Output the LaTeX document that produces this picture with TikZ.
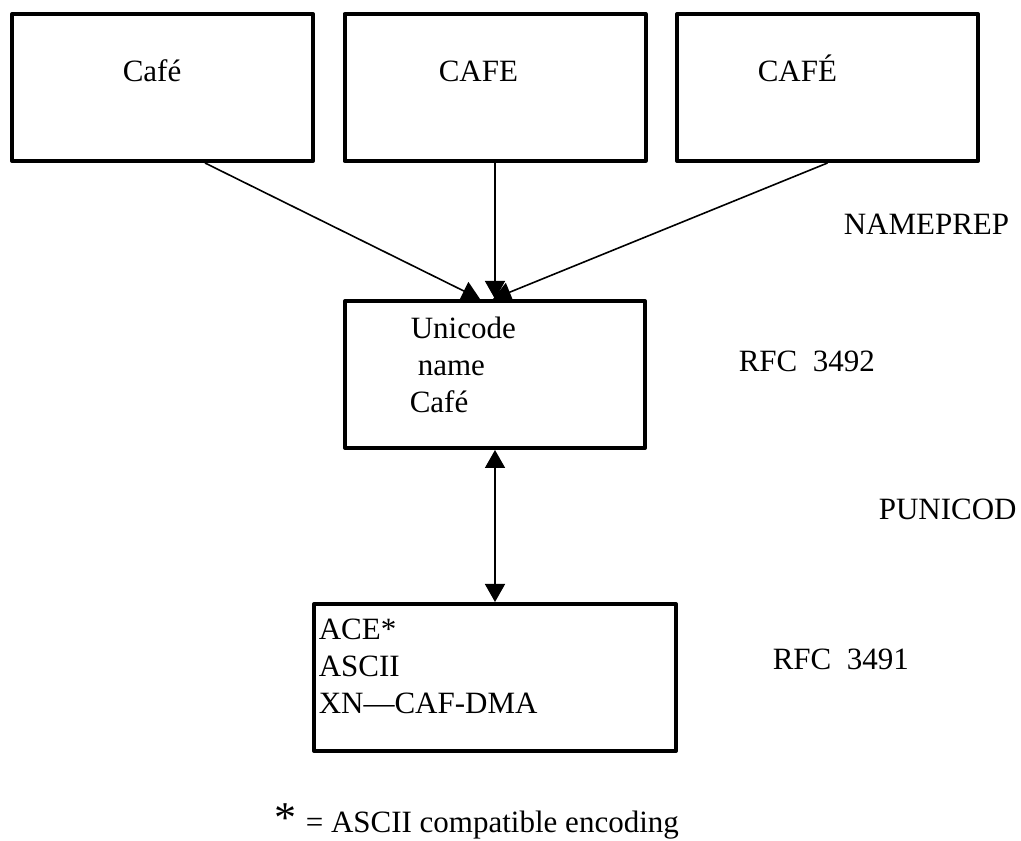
\documentclass[tikz,border=0pt]{standalone}
\usepackage{fontspec}
\setmainfont{Liberation Serif}
\usetikzlibrary{arrows.meta}
\tikzset{
  box/.style={draw=black,rectangle,line width=4bp,minimum width=301bp,minimum height=147bp,inner sep=0pt},
  txt/.style={anchor=base west,inner sep=0pt,font=\fontsize{31bp}{37bp}\selectfont},
}
\begin{document}
\begin{tikzpicture}[>={Triangle[length=18bp,width=20bp]},line join=round,line width=1.6bp]
\useasboundingbox (0,0) rectangle (1021bp,841bp);
%%
\node (cafe1) at (162.5bp,753.5bp) [box] {};
  \node (cafe2) at (495bp,753.5bp) [box] {};
  \node (cafe3) at (827.5bp,753.5bp) [box] {};
  \node (uni) at (495bp,466.5bp) [box,minimum width=300bp] {};
  \node (ace) at (495bp,163.5bp) [box,minimum width=362bp] {};
  \node (t_cafe1) at (122bp,759bp) [txt] {Café};
  \node (t_cafe2) at (438bp,759bp) [txt] {CAFE};
  \node (t_cafe3) at (757bp,759bp) [txt] {CAFÉ};
  \node (t_uni1) at (410bp,502bp) [txt] {Unicode};
  \node (t_uni2) at (417bp,465bp) [txt] {name};
  \node (t_uni3) at (409bp,428bp) [txt] {Café};
  \node (t_ace1) at (318bp,201bp) [txt] {ACE*};
  \node (t_ace2) at (318bp,164bp) [txt] {ASCII};
  \node (t_ace3) at (318bp,127bp) [txt] {XN—CAF-DMA};
  \node (nameprep) at (843bp,606bp) [txt] {NAMEPREP};
  \node (rfc3492) at (738bp,469bp) [txt] {RFC\ \ 3492};
  \node (punicod) at (878bp,321bp) [txt] {PUNICOD};
  \node (rfc3491) at (772bp,171bp) [txt] {RFC\ \ 3491};
  \node (star) at (274bp,9bp) [txt,font=\fontsize{44bp}{44bp}\selectfont] {*};
  \node (note) at (305bp,9bp) [txt] {= ASCII compatible encoding};
  \draw [->,solid] ([xshift=42.5bp]cafe1.south) -- ([xshift=-15bp]uni.north);
  \draw [->,solid] (cafe2.south) -- (uni.north);
  \draw [->,solid] (cafe3.south) -- ([xshift=-2bp]uni.north);
  \draw [<->,solid] (uni.south) -- (ace.north);
%
\end{tikzpicture}
\end{document}
